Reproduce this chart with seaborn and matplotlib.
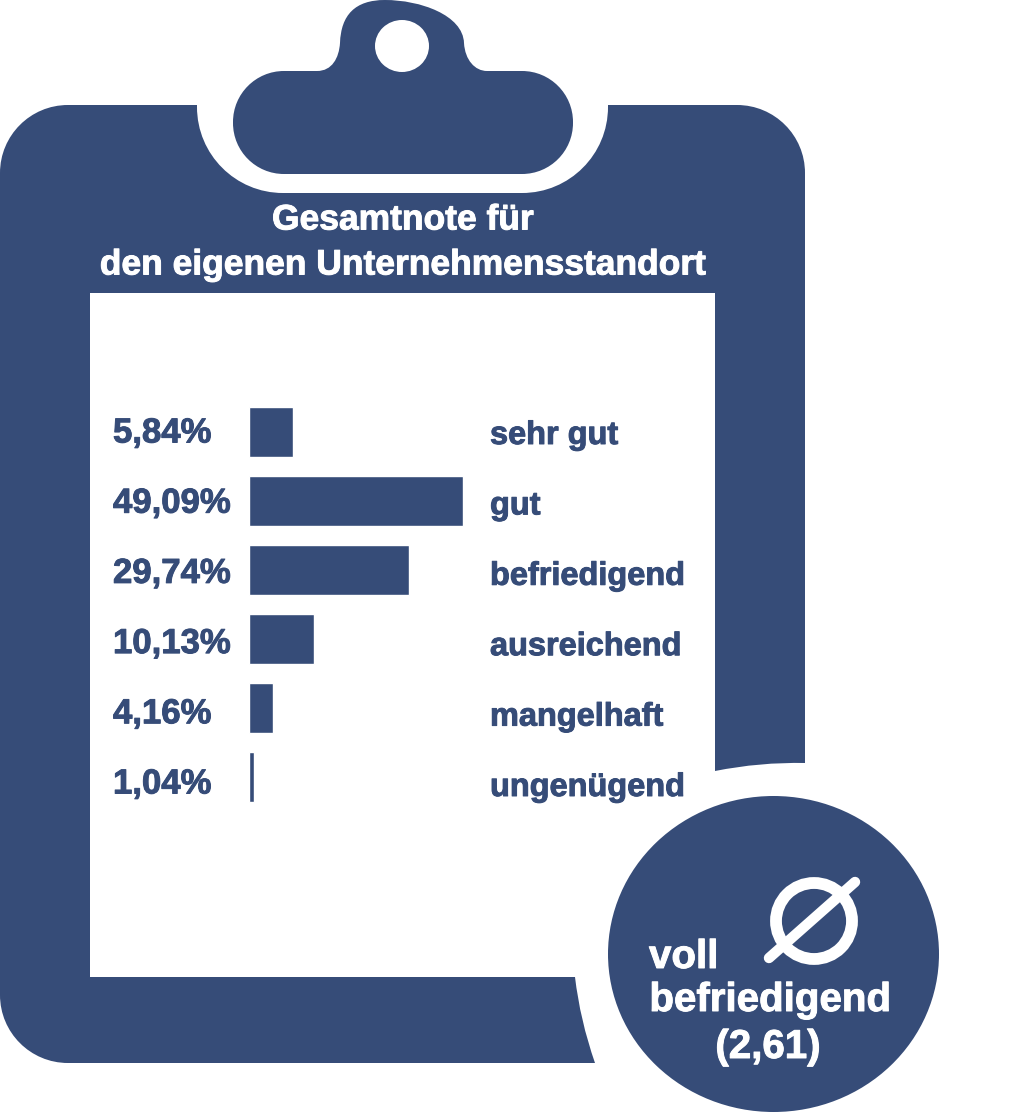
"""Gesamtnote fuer den eigenen Unternehmensstandort - Klemmbrett-Grafik."""

import matplotlib
matplotlib.use('Agg')

import matplotlib.patheffects as pe
import matplotlib.pyplot as plt
import pandas as pd
import seaborn as sns
from matplotlib.patches import Ellipse, PathPatch, Rectangle
from matplotlib.path import Path

categories = ['sehr gut', 'gut', 'befriedigend', 'ausreichend', 'mangelhaft', 'ungenügend']
value_labels = ['5,84%', '49,09%', '29,74%', '10,13%', '4,16%', '1,04%']
# Balkenlaengen wie im Bild gezeichnet (Pixel), nicht proportional zu den Prozentwerten
drawn_lengths = [44, 214, 160, 65, 24, 5]

title_lines = ['Gesamtnote für', 'den eigenen Unternehmensstandort']
mean_lines = ['voll', 'befriedigend', '(2,61)']

BLUE = '#364c78'
W, H = 1024, 1112

sns.set_theme(style='white')
plt.rcParams['font.family'] = ['Liberation Sans', 'DejaVu Sans']

fig = plt.figure(figsize=(W / 100, H / 100), dpi=100, facecolor='white')

# Klemmbrett in Pixelkoordinaten
bg = fig.add_axes([0, 0, 1, 1])
bg.set_xlim(0, W)
bg.set_ylim(H, 0)
bg.axis('off')

KAPPA = 0.5523


def rounded(x0, y0, x1, y1, r, color, z):
    """Rechteck mit echten Viertelkreis-Ecken."""
    k = r * (1 - KAPPA)
    verts = [
        (x0 + r, y0), (x1 - r, y0),
        (x1 - k, y0), (x1, y0 + k), (x1, y0 + r),
        (x1, y1 - r),
        (x1, y1 - k), (x1 - k, y1), (x1 - r, y1),
        (x0 + r, y1),
        (x0 + k, y1), (x0, y1 - k), (x0, y1 - r),
        (x0, y0 + r),
        (x0, y0 + k), (x0 + k, y0), (x0 + r, y0),
        (x0 + r, y0),
    ]
    codes = [Path.MOVETO, Path.LINETO] + [Path.CURVE4] * 3 + [Path.LINETO] + [Path.CURVE4] * 3
    codes += [Path.LINETO] + [Path.CURVE4] * 3 + [Path.LINETO] + [Path.CURVE4] * 3 + [Path.CLOSEPOLY]
    bg.add_patch(PathPatch(Path(verts, codes), fc=color, ec='none', zorder=z))


rounded(0, 105, 805, 1063, 68, BLUE, 1)
rounded(197, -100, 608, 193, 86, 'white', 2)
bg.add_patch(Rectangle((90, 293), 625, 684, fc='white', ec='none', zorder=2))

# Ausschnitt unten rechts um den Kreis
cut_verts = [
    (715, 771), (760, 762), (805, 763), (900, 763), (900, 1112), (600, 1112),
    (595, 1063), (580, 1020), (575, 977), (575, 850), (715, 771),
]
cut_codes = [
    Path.MOVETO, Path.CURVE3, Path.CURVE3, Path.LINETO, Path.LINETO, Path.LINETO,
    Path.LINETO, Path.CURVE3, Path.CURVE3, Path.LINETO, Path.CLOSEPOLY,
]
bg.add_patch(PathPatch(Path(cut_verts, cut_codes), fc='white', ec='none', zorder=2))

# Klammer
rounded(233, 71, 573, 174, 51, BLUE, 3)
head_verts = [
    (290, 90), (290, 72), (317, 71),
    (332, 71), (339, 58), (340, 43),
    (341, 15), (355, 0), (385, 0),
    (420, 0), (463, 15), (464, 43),
    (465, 60), (475, 71), (487, 71),
    (520, 72), (520, 90), (290, 90),
]
head_codes = [
    Path.MOVETO, Path.LINETO, Path.LINETO,
    Path.CURVE4, Path.CURVE4, Path.CURVE4,
    Path.CURVE4, Path.CURVE4, Path.CURVE4,
    Path.CURVE4, Path.CURVE4, Path.CURVE4,
    Path.CURVE4, Path.CURVE4, Path.CURVE4,
    Path.LINETO, Path.LINETO, Path.CLOSEPOLY,
]
bg.add_patch(PathPatch(Path(head_verts, head_codes), fc=BLUE, ec='none', zorder=3))
bg.add_patch(Ellipse((402, 46), 54, 52, fc='white', ec='none', zorder=4))

# Kreis mit Durchschnittszeichen
bg.add_patch(Ellipse((773.5, 954), 331, 316, fc=BLUE, ec='none', zorder=3))
bg.add_patch(Ellipse((814, 921), 76, 76, fc='none', ec='white', lw=8.5, zorder=4))
bg.plot([769, 855], [958, 882], color='white', lw=7.5, solid_capstyle='round', zorder=4)


def heavy(color):
    return [pe.withStroke(linewidth=0.7, foreground=color)]


# Texte
for i, line in enumerate(title_lines):
    bg.text(403, 220 + i * 45, line, color='white', fontsize=25.5, fontweight='bold',
            ha='center', va='center', zorder=5, path_effects=heavy('white'))

bg.text(649, 957, mean_lines[0], color='white', fontsize=29, fontweight='bold',
        ha='left', va='center', zorder=5, path_effects=heavy('white'))
bg.text(770, 1000, mean_lines[1], color='white', fontsize=29, fontweight='bold',
        ha='center', va='center', zorder=5, path_effects=heavy('white'))
bg.text(768, 1047, mean_lines[2], color='white', fontsize=29, fontweight='bold',
        ha='center', va='center', zorder=5, path_effects=heavy('white'))

for i, (val, cat) in enumerate(zip(value_labels, categories)):
    bg.text(113, 433 + i * 70.2, val, color=BLUE, fontsize=25, fontweight='bold',
            ha='left', va='center', zorder=5, path_effects=heavy(BLUE))
    bg.text(490, 436 + i * 70.4, cat, color=BLUE, fontsize=23.4, fontweight='bold',
            ha='left', va='center', zorder=5, path_effects=heavy(BLUE))

# Balken
df = pd.DataFrame({'Note': categories, 'Laenge': drawn_lengths})
bar_left, bar_right, bar_top, bar_bottom = 248.5, 489, 397, 811
ax = fig.add_axes([bar_left / W, 1 - bar_bottom / H,
                   (bar_right - bar_left) / W, (bar_bottom - bar_top) / H])
ax.patch.set_alpha(0)
sns.barplot(data=df, x='Laenge', y='Note', color=BLUE, saturation=1, width=50 / 69, ax=ax)
ax.set_xlim(0, bar_right - bar_left)
ax.set_ylim(5.5, -0.5)
ax.axis('off')

fig.savefig('out.png', dpi=100, facecolor='white')
plt.close(fig)
